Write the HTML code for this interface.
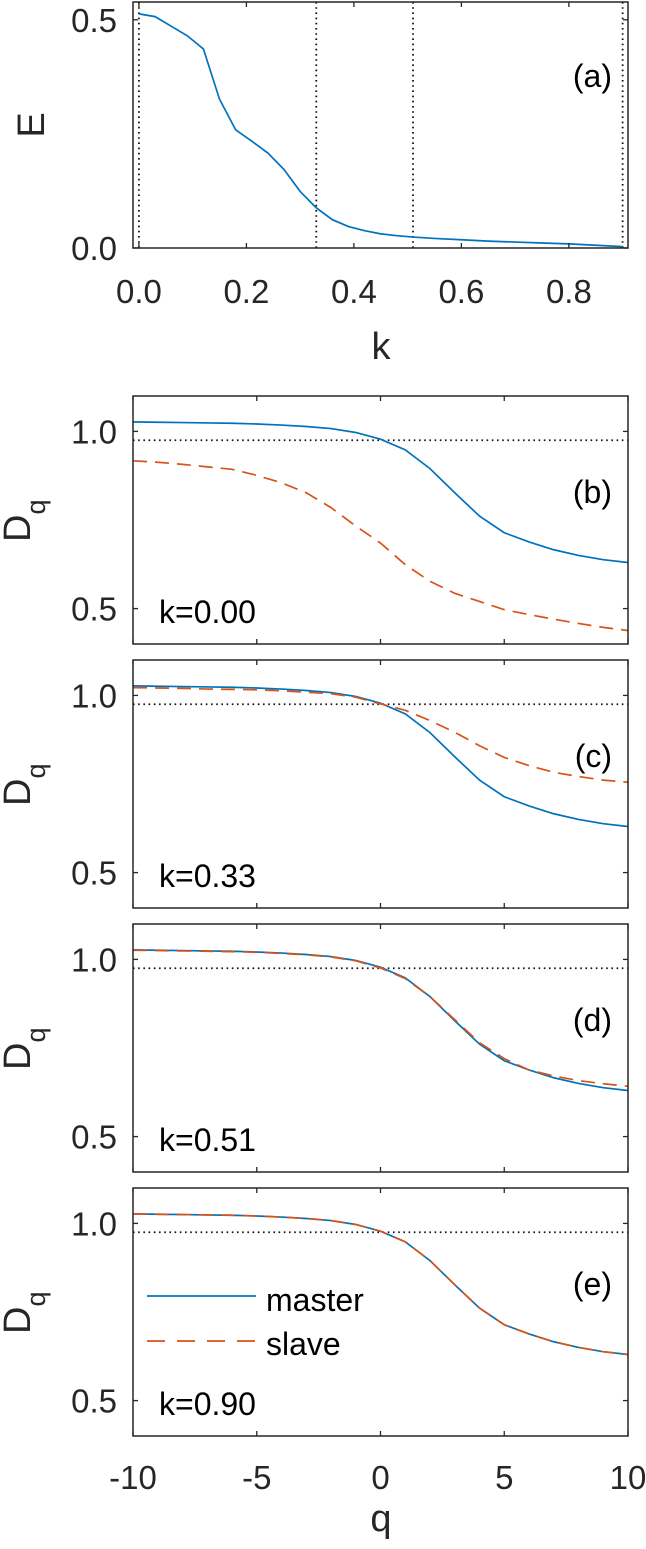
<!DOCTYPE html>
<html><head><meta charset="utf-8"><style>
html,body{margin:0;padding:0;background:#fff;}
svg{display:block;font-family:"Liberation Sans",sans-serif;}
</style></head><body>
<svg id="fig" width="646" height="1549" viewBox="0 0 646 1549" xmlns="http://www.w3.org/2000/svg"></svg>
<script>
// Panel (a) data
const kVals = [0,0.03,0.06,0.09,0.12,0.15,0.18,0.21,0.24,0.27,0.30,0.33,0.36,0.39,0.42,0.45,0.48,0.51,0.55,0.60,0.65,0.70,0.75,0.80,0.85,0.90];
const eVals = [0.513,0.507,0.486,0.465,0.436,0.326,0.259,0.234,0.208,0.172,0.124,0.088,0.062,0.047,0.038,0.031,0.027,0.024,0.021,0.018,0.015,0.013,0.011,0.009,0.006,0.003];
const kMarks = [0,0.33,0.51,0.9];
const kTicks = [0,0.2,0.4,0.6,0.8];
const kTickLabels = ["0.0","0.2","0.4","0.6","0.8"];
const eTicks = [0,0.5];
const eTickLabels = ["0.0","0.5"];
// Panels (b)-(e) data
const qVals = [-10,-9,-8,-7,-6,-5,-4,-3,-2,-1,0,1,2,3,4,5,6,7,8,9,10];
const masterD = [1.027,1.026,1.025,1.024,1.023,1.021,1.018,1.014,1.008,0.997,0.978,0.948,0.895,0.827,0.761,0.714,0.688,0.666,0.650,0.638,0.630];
const slaveB = [0.917,0.913,0.907,0.900,0.893,0.876,0.855,0.827,0.785,0.733,0.685,0.624,0.577,0.543,0.520,0.497,0.483,0.470,0.458,0.447,0.438];
const slaveC = [1.022,1.021,1.020,1.018,1.017,1.016,1.013,1.009,1.005,0.995,0.976,0.958,0.929,0.896,0.858,0.825,0.802,0.783,0.771,0.761,0.755];
const slaveD = [1.026,1.025,1.024,1.023,1.022,1.020,1.017,1.013,1.007,0.996,0.976,0.946,0.895,0.830,0.765,0.720,0.688,0.671,0.658,0.649,0.642];
const slaveE = [1.027,1.026,1.025,1.024,1.023,1.021,1.018,1.014,1.008,0.997,0.978,0.948,0.895,0.827,0.761,0.714,0.688,0.666,0.650,0.638,0.630];
const panelLetters = ["(b)","(c)","(d)","(e)"];
const panelK = ["k=0.00","k=0.33","k=0.51","k=0.90"];
const refD = 0.975;
const qTicks = [-10,-5,0,5,10];
const qTickLabels = ["-10","-5","0","5","10"];
const dTicks = [0.5,1.0];
const dTickLabels = ["0.5","1.0"];

const NS = "http://www.w3.org/2000/svg";
const svg = document.getElementById('fig');
function mk(tag, attrs, parent) {
  const el = document.createElementNS(NS, tag);
  for (const k in attrs) el.setAttribute(k, attrs[k]);
  (parent || svg).appendChild(el);
  return el;
}
const AX = "#262626", BLUE = "#0072BD", RED = "#D95319";
const L = 133, R = 628;
const DOT = {stroke:"#111", "stroke-width":1.8, "stroke-dasharray":"1.6,3.6"};

function linScale(d0, d1, r0, r1) { return v => r0 + (v - d0) / (d1 - d0) * (r1 - r0); }
function pathFrom(xs, ys, sx, sy) {
  return xs.map((x, i) => (i ? "L" : "M") + sx(x).toFixed(2) + "," + sy(ys[i]).toFixed(2)).join(" ");
}
function box(g, top, bottom) {
  const r = mk('rect', {x:L, y:top, width:R-L, height:bottom-top, fill:"none", stroke:AX, "stroke-width":1.5}, g);
  
  
}

// ---------- Panel (a) ----------
(function(){
  const top = 2, bottom = 248;
  const g = mk('g', {});
  
  
  const sx = linScale(-0.011, 0.91, L, R);
  const sy = linScale(0, 0.539, bottom, top);
  kMarks.forEach(k => {
    const l = mk('line', Object.assign({x1:sx(k), x2:sx(k), y1:top, y2:bottom}, DOT), g);
    
    
  });
  const p = mk('path', {d:pathFrom(kVals, eVals, sx, sy), fill:"none", stroke:BLUE, "stroke-width":1.7}, g);
  
  
  box(g, top, bottom);
  kTicks.forEach((k, i) => {
    mk('line', {x1:sx(k), x2:sx(k), y1:bottom, y2:bottom-5, stroke:AX, "stroke-width":1.3}, g);
    mk('line', {x1:sx(k), x2:sx(k), y1:top, y2:top+5, stroke:AX, "stroke-width":1.3}, g);
    const t = mk('text', {x:sx(k), y:303, "text-anchor":"middle", "font-size":33, fill:AX}, g);
    t.textContent = kTickLabels[i];
    
    
  });
  eTicks.forEach((e, i) => {
    mk('line', {x1:L, x2:L+5, y1:sy(e), y2:sy(e), stroke:AX, "stroke-width":1.3}, g);
    mk('line', {x1:R, x2:R-5, y1:sy(e), y2:sy(e), stroke:AX, "stroke-width":1.3}, g);
    const t = mk('text', {x:117, y:sy(e)+12, "text-anchor":"end", "font-size":33, fill:AX}, g);
    t.textContent = eTickLabels[i];
    
    
  });
  const xl = mk('text', {x:381, y:359, "text-anchor":"middle", "font-size":38, fill:AX}, g);
  xl.textContent = "k";
  
  
  const yl = mk('text', {transform:"translate(44,125) rotate(-90)", "text-anchor":"middle", "font-size":38, fill:AX}, g);
  yl.textContent = "E";
  
  
  const lab = mk('text', {x:612, y:87, "text-anchor":"end", "font-size":32, fill:"#000"}, g);
  lab.textContent = "(a)";
  
  
})();

// ---------- Panels (b)-(e) ----------
const slaves = [slaveB, slaveC, slaveD, slaveE];
const tops = [396, 660, 924, 1188];
tops.forEach((top, pi) => {
  const bottom = top + 248;
  const g = mk('g', {});
  
  
  const sx = linScale(-10, 10, L, R);
  const sy = linScale(0.4, 1.1, bottom, top);
  const ref = mk('line', Object.assign({x1:L, x2:R, y1:sy(refD), y2:sy(refD)}, DOT), g);
  
  
  const m = mk('path', {d:pathFrom(qVals, masterD, sx, sy), fill:"none", stroke:BLUE, "stroke-width":1.7}, g);
  
  
  const s = mk('path', {d:pathFrom(qVals, slaves[pi], sx, sy), fill:"none", stroke:RED, "stroke-width":1.7, "stroke-dasharray":"14,8"}, g);
  
  
  box(g, top, bottom);
  qTicks.forEach((q, i) => {
    mk('line', {x1:sx(q), x2:sx(q), y1:bottom, y2:bottom-5, stroke:AX, "stroke-width":1.3}, g);
    mk('line', {x1:sx(q), x2:sx(q), y1:top, y2:top+5, stroke:AX, "stroke-width":1.3}, g);
    if (pi === 3) {
      const t = mk('text', {x:sx(q), y:1489, "text-anchor":"middle", "font-size":33, fill:AX}, g);
      t.textContent = qTickLabels[i];
      
      
    }
  });
  dTicks.forEach((d, i) => {
    mk('line', {x1:L, x2:L+5, y1:sy(d), y2:sy(d), stroke:AX, "stroke-width":1.3}, g);
    mk('line', {x1:R, x2:R-5, y1:sy(d), y2:sy(d), stroke:AX, "stroke-width":1.3}, g);
    const t = mk('text', {x:117, y:sy(d)+12, "text-anchor":"end", "font-size":33, fill:AX}, g);
    t.textContent = dTickLabels[i];
    
    
  });
  const yl = mk('text', {transform:"translate(30," + (top+146) + ") rotate(-90)", "font-size":38, fill:AX}, g);
  
  
  yl.appendChild(document.createTextNode("D"));
  const sub = mk('tspan', {"font-size":27, dy:15}, yl);
  sub.textContent = "q";
  const lab = mk('text', {x:612, y:top+107, "text-anchor":"end", "font-size":32, fill:"#000"}, g);
  lab.textContent = panelLetters[pi];
  
  
  const kl = mk('text', {x:159, y:top+227, "font-size":32, fill:"#000"}, g);
  kl.textContent = panelK[pi];
  
  
});

// legend in panel (e)
(function(){
  const g = mk('g', {});
  
  
  const l1 = mk('line', {x1:147, x2:256, y1:1296, y2:1296, stroke:BLUE, "stroke-width":1.7}, g);
  
  
  const t1 = mk('text', {x:266, y:1311, "font-size":32, fill:"#000"}, g);
  t1.textContent = "master";
  
  
  const l2 = mk('line', {x1:147, x2:256, y1:1341, y2:1341, stroke:RED, "stroke-width":1.7, "stroke-dasharray":"18,12"}, g);
  
  
  const t2 = mk('text', {x:266, y:1355, "font-size":32, fill:"#000"}, g);
  t2.textContent = "slave";
  
  
  const xl = mk('text', {x:381, y:1531, "text-anchor":"middle", "font-size":38, fill:AX}, g);
  xl.textContent = "q";
  
  
})();
</script>
</body></html>
